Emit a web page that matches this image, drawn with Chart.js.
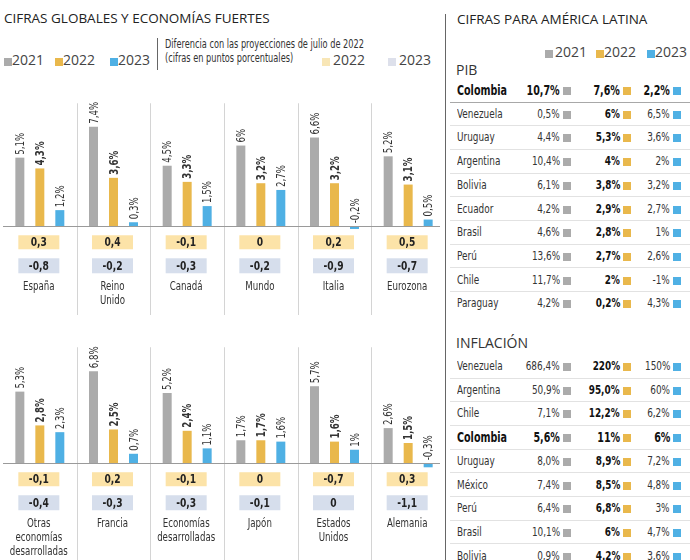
<!DOCTYPE html>
<html>
<head>
<meta charset="utf-8">
<script src="https://cdn.jsdelivr.net/npm/chart.js@4/dist/chart.umd.min.js"></script>
<style>
  body { margin: 0; background: #fff; }
  #wrap { position: relative; width: 690px; height: 560px; overflow: hidden; font-family: "DejaVu Sans Condensed", "DejaVu Sans", sans-serif; color: #222; }
  .abs { position: absolute; white-space: nowrap; }
  .title { font-family: "Open Sans", sans-serif; font-size: 13.5px; color: #222; }
  .leg { font-family: "Open Sans", sans-serif; font-size: 14px; color: #444; }
  .sq { position: absolute; width: 8px; height: 8px; }
  .row { position: absolute; left: 450px; width: 240px; height: 1px; background: #e2e2e2; }
  .cell { position: absolute; font-size: 13px; line-height: 16px; color: #333; white-space: nowrap; }
  .cell span { display: inline-block; transform: scaleX(0.76); }
  .narrow { display: inline-block; transform: scaleX(0.76); transform-origin: left; }
  canvas { position: absolute; }
</style>
</head>
<body>
<div id="wrap">
  <div class="abs title" style="left:4px; top:9px;">CIFRAS GLOBALES Y ECONOMÍAS FUERTES</div>
  <div class="sq" style="left:4px; top:58px; background:#ababab;"></div>
  <div class="abs leg" style="left:12px; top:50px;">2021</div>
  <div class="sq" style="left:55px; top:58px; background:#e9b84c;"></div>
  <div class="abs leg" style="left:63px; top:50px;">2022</div>
  <div class="sq" style="left:110px; top:58px; background:#4fb0e4;"></div>
  <div class="abs leg" style="left:118px; top:50px;">2023</div>
  <div class="abs" style="left:157px; top:38px; width:1px; height:32px; background:#666;"></div>
  <div class="abs" style="left:165px; top:37px; font-size:12px; line-height:14px; color:#333;"><span class="narrow">Diferencia con las proyecciones de julio de 2022<br>(cifras en puntos porcentuales)</span></div>
  <div class="sq" style="left:322px; top:58px; background:#f8e6b6;"></div>
  <div class="abs leg" style="left:333px; top:50px;">2022</div>
  <div class="sq" style="left:388px; top:58px; background:#dde0eb;"></div>
  <div class="abs leg" style="left:399px; top:50px;">2023</div>

  <div class="abs" style="left:445px; top:14px; width:1px; height:546px; background:#666;"></div>
  <div class="abs title" style="left:457px; top:10px;">CIFRAS PARA AMÉRICA LATINA</div>
  <div class="sq" style="left:545px; top:50px; background:#ababab;"></div>
  <div class="abs leg" style="left:555px; top:42px;">2021</div>
  <div class="sq" style="left:596px; top:50px; background:#e9b84c;"></div>
  <div class="abs leg" style="left:604px; top:42px;">2022</div>
  <div class="sq" style="left:647px; top:50px; background:#4fb0e4;"></div>
  <div class="abs leg" style="left:655px; top:42px;">2023</div>
  <div class="abs leg" style="left:456px; top:60px; color:#333;">PIB</div>
  <div class="abs leg" style="left:456px; top:333px; color:#333;">INFLACIÓN</div>
  <div id="tables"></div>

  <canvas id="topChart" width="442" height="230" style="left:3px; top:85px;"></canvas>
  <canvas id="bottomChart" width="442" height="215" style="left:3px; top:345px;"></canvas>
</div>
<script>
const FONT = '"DejaVu Sans Condensed", "DejaVu Sans", sans-serif';
const GRAY = '#ababab', YELLOW = '#e9b84c', BLUE = '#4fb0e4';
const BOX22 = '#fce3a8', BOX23 = '#d6deec';

// top row
const topCategories = [['España'], ['Reino', 'Unido'], ['Canadá'], ['Mundo'], ['Italia'], ['Eurozona']];
const top2021 = [5.1, 7.4, 4.5, 6, 6.6, 5.2];
const top2022 = [4.3, 3.6, 3.3, 3.2, 3.2, 3.1];
const top2023 = [1.2, 0.3, 1.5, 2.7, -0.2, 0.5];
const topDiff2022 = [0.3, 0.4, -0.1, 0, 0.2, 0.5];
const topDiff2023 = [-0.8, -0.2, -0.3, -0.2, -0.9, -0.7];

// bottom row
const bottomCategories = [['Otras', 'economías', 'desarrolladas'], ['Francia'], ['Economías', 'desarrolladas'], ['Japón'], ['Estados', 'Unidos'], ['Alemania']];
const bottom2021 = [5.3, 6.8, 5.2, 1.7, 5.7, 2.6];
const bottom2022 = [2.8, 2.5, 2.4, 1.7, 1.6, 1.5];
const bottom2023 = [2.3, 0.7, 1.1, 1.6, 1, -0.3];
const bottomDiff2022 = [-0.1, 0.2, -0.1, 0, -0.7, 0.3];
const bottomDiff2023 = [-0.4, -0.3, -0.3, -0.1, 0, -1.1];

// Latin America tables (text as printed)
const pibCountries = ['Colombia', 'Venezuela', 'Uruguay', 'Argentina', 'Bolivia', 'Ecuador', 'Brasil', 'Perú', 'Chile', 'Paraguay'];
const pib2021 = ['10,7', '0,5', '4,4', '10,4', '6,1', '4,2', '4,6', '13,6', '11,7', '4,2'];
const pib2022 = ['7,6', '6', '5,3', '4', '3,8', '2,9', '2,8', '2,7', '2', '0,2'];
const pib2023 = ['2,2', '6,5', '3,6', '2', '3,2', '2,7', '1', '2,6', '-1', '4,3'];
const infCountries = ['Venezuela', 'Argentina', 'Chile', 'Colombia', 'Uruguay', 'México', 'Perú', 'Brasil', 'Bolivia'];
const inf2021 = ['686,4', '50,9', '7,1', '5,6', '8,0', '7,4', '6,4', '10,1', '0,9'];
const inf2022 = ['220', '95,0', '12,2', '11', '8,9', '8,5', '6,8', '6', '4,2'];
const inf2023 = ['150', '60', '6,2', '6', '7,2', '4,8', '3', '4,7', '3,6'];

const fmt = v => String(v).replace('.', ',');

// squeezed text, the font on hand is wider than the original one
function narrowText(ctx, txt, x, y, sx) {
  ctx.save();
  ctx.translate(x, y);
  ctx.scale(sx, 1);
  ctx.fillText(txt, 0, 0);
  ctx.restore();
}

const extras = {
  id: 'extras',
  afterDatasetsDraw(chart, args, opts) {
    const { ctx, scales: { x, y } } = chart;
    const base = y.getPixelForValue(0);
    const n = chart.data.labels.length;
    ctx.save();
    // column separators
    ctx.strokeStyle = '#d4d4d4';
    ctx.lineWidth = 1;
    for (let i = 0; i < n - 1; i++) {
      const sx = Math.round((x.getPixelForValue(i) + x.getPixelForValue(i + 1)) / 2) + 0.5;
      ctx.beginPath();
      ctx.moveTo(sx, base - opts.sepTop);
      ctx.lineTo(sx, chart.height);
      ctx.stroke();
    }
    // baseline
    ctx.strokeStyle = '#9a9a9a';
    ctx.beginPath();
    ctx.moveTo(0, Math.round(base) + 0.5);
    ctx.lineTo(chart.width - 5, Math.round(base) + 0.5);
    ctx.stroke();
    // rotated value labels
    chart.data.datasets.forEach((ds, di) => {
      chart.getDatasetMeta(di).data.forEach((bar, i) => {
        const v = ds.data[i];
        const t = Math.min(bar.y, base);
        ctx.save();
        ctx.translate(bar.x + 1, t - 3);
        ctx.rotate(-Math.PI / 2);
        ctx.scale(0.8, 1);
        ctx.font = (di === 1 ? 'bold ' : '') + '12px ' + FONT;
        ctx.fillStyle = '#333';
        ctx.textAlign = 'left';
        ctx.textBaseline = 'middle';
        ctx.fillText(fmt(v) + '%', 0, 0);
        ctx.restore();
      });
    });
    // difference boxes and category names
    for (let i = 0; i < n; i++) {
      const cx = x.getPixelForValue(i) - 1;
      ctx.fillStyle = BOX22;
      ctx.fillRect(cx - 20.5, base + 9, 41, 14);
      ctx.fillStyle = BOX23;
      ctx.fillRect(cx - 20.5, base + 32, 41, 15);
      ctx.fillStyle = '#222';
      ctx.font = 'bold 13px ' + FONT;
      ctx.textAlign = 'center';
      ctx.textBaseline = 'middle';
      narrowText(ctx, fmt(opts.diff22[i]), cx, base + 16.5, 0.78);
      narrowText(ctx, fmt(opts.diff23[i]), cx, base + 40, 0.78);
      ctx.font = '13px ' + FONT;
      ctx.fillStyle = '#333';
      chart.data.labels[i].forEach((line, li) => {
        narrowText(ctx, line, cx, base + 60 + li * 14, 0.74);
      });
    }
    ctx.restore();
  }
};

function makeChart(id, labels, d21, d22, d23, diff22, diff23, yMax, padBottom, sepTop) {
  const bar = { categoryPercentage: 0.814, barPercentage: 0.45 };
  return new Chart(document.getElementById(id), {
    type: 'bar',
    data: {
      labels: labels,
      datasets: [
        Object.assign({ label: '2021', data: d21, backgroundColor: GRAY }, bar),
        Object.assign({ label: '2022', data: d22, backgroundColor: YELLOW }, bar),
        Object.assign({ label: '2023', data: d23, backgroundColor: BLUE }, bar)
      ]
    },
    options: {
      responsive: false,
      animation: false,
      layout: { padding: { top: 0, bottom: padBottom, left: 0, right: 0 } },
      scales: {
        x: { display: false },
        y: { display: false, min: -0.5, max: yMax }
      },
      plugins: {
        legend: { display: false },
        tooltip: { enabled: false },
        extras: { diff22: diff22, diff23: diff23, sepTop: sepTop }
      }
    },
    plugins: [extras]
  });
}

makeChart('topChart', topCategories, top2021, top2022, top2023, topDiff2022, topDiff2023, 10.5, 82, 123);
makeChart('bottomChart', bottomCategories, bottom2021, bottom2022, bottom2023, bottomDiff2022, bottomDiff2023, 8.75, 90, 116);

// tables on the right
function buildTable(countries, c21, c22, c23, firstY, boldName, darkAfterFirst) {
  const host = document.getElementById('tables');
  const step = 23.7;
  const cols = [[c21, 560, GRAY], [c22, 620, YELLOW], [c23, 670, BLUE]];
  countries.forEach((name, i) => {
    const cy = firstY + i * step;
    const bold = name === boldName;
    const nm = document.createElement('div');
    nm.className = 'cell';
    nm.style.left = '457px';
    nm.style.top = (cy - 8) + 'px';
    nm.style.fontWeight = bold ? 'bold' : 'normal';
    if (bold) { nm.style.color = '#111'; nm.style.fontSize = '14px'; }
    nm.innerHTML = '<span style="transform-origin:left">' + name + '</span>';
    host.appendChild(nm);
    cols.forEach(([vals, right, col], ci) => {
      const c = document.createElement('div');
      c.className = 'cell';
      c.style.right = (690 - right) + 'px';
      c.style.top = (cy - 8) + 'px';
      if (bold || ci === 1) { c.style.fontWeight = 'bold'; c.style.color = '#111'; }
      if (bold) c.style.fontSize = '14px';
      c.innerHTML = '<span style="transform-origin:right">' + vals[i] + '%</span>';
      host.appendChild(c);
      const s = document.createElement('div');
      s.className = 'sq';
      s.style.left = (right + 3) + 'px';
      s.style.top = (cy - 3) + 'px';
      s.style.background = col;
      host.appendChild(s);
    });
    if (i < countries.length - 1) {
      const ln = document.createElement('div');
      ln.className = 'row';
      ln.style.top = Math.round(cy + 11.5) + 'px';
      if (i === 0 && darkAfterFirst) ln.style.background = '#a8a8a8';
      host.appendChild(ln);
    }
  });
}
buildTable(pibCountries, pib2021, pib2022, pib2023, 90, 'Colombia', true);
buildTable(infCountries, inf2021, inf2022, inf2023, 366, 'Colombia', false);
</script>
</body>
</html>
